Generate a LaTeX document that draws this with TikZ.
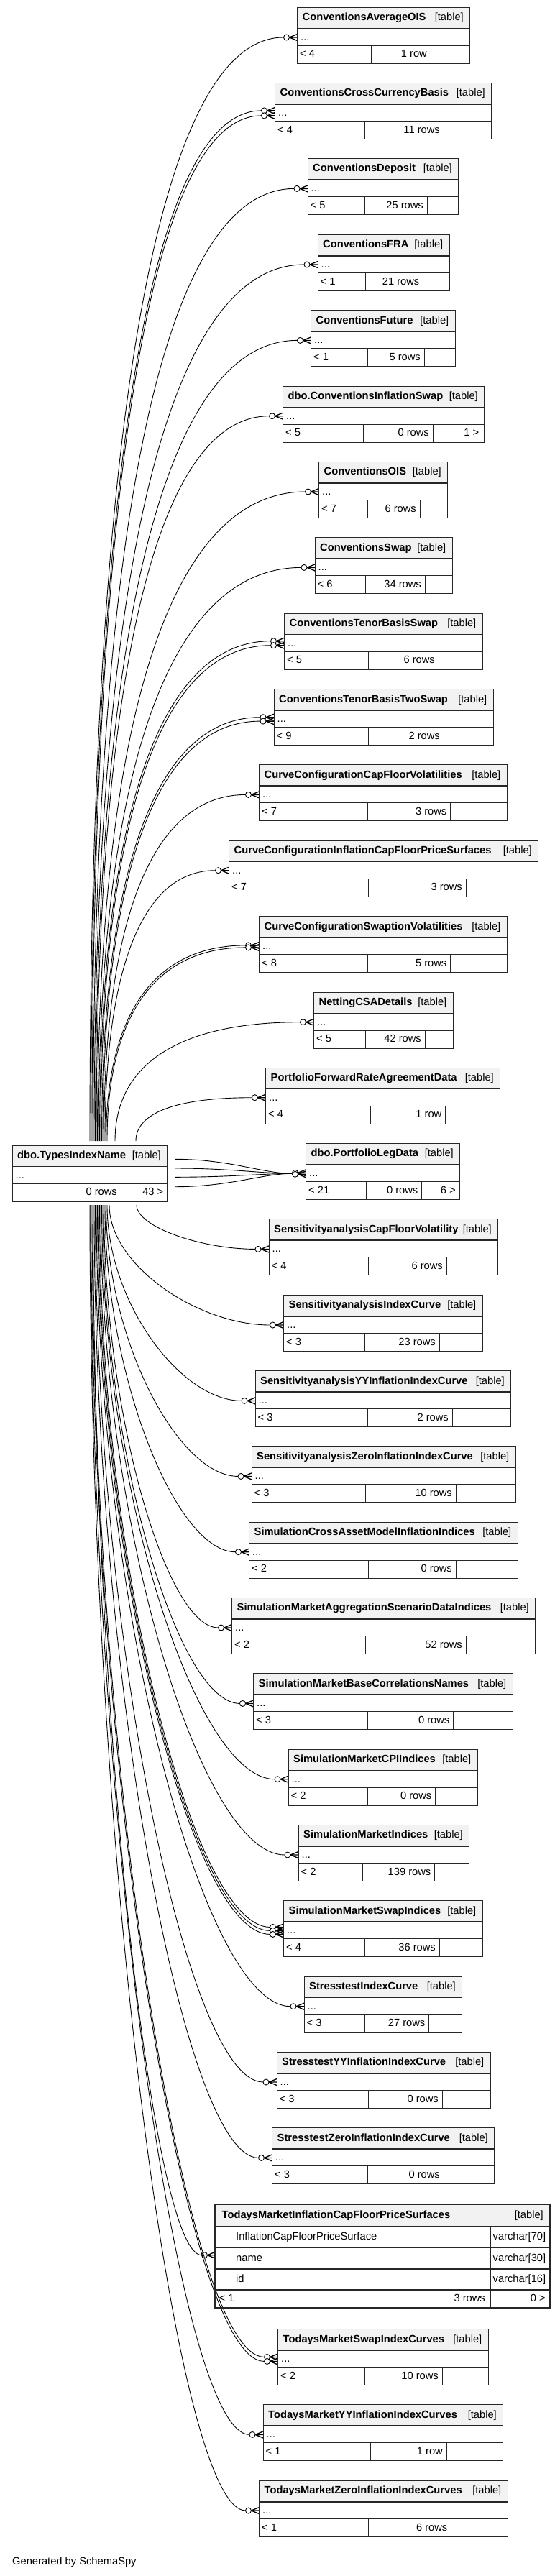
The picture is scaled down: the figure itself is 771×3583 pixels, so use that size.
\documentclass[tikz,border=0pt]{standalone}
\usepackage{fontspec}
\setmainfont{Liberation Sans}
\newcommand{\tbl}[9]{%
  \fill[hdr] (#2,#4) rectangle (#3,#4+29.5);
  \node[tblbox, minimum width=#3pt-#2pt, minimum height=78pt] (#1) at (#2,#4) {};
  \draw[sepline] (#2,#4+29.5) -- (#3,#4+29.5);
  \draw[boxline] (#2,#4+53) -- (#3,#4+53) (#5,#4+53) -- (#5,#4+78) (#6,#4+53) -- (#6,#4+78);
  \node[ttl, anchor=base west] (#1-t) at (#2+7,#4+18.3) {#7};
  \node[txt, anchor=base east] (#1-g) at (#3-8.5,#4+18.3) {[table]};
  \node[txt, anchor=base west] (#1-d) at (#2+4.5,#4+46.2) {...};
  \node[txt, anchor=base west] (#1-l) at (#2+3.5,#4+69.7) {#8};
  \node[txt, anchor=base east] (#1-n) at (#6-5,#4+69.7) {#9};
}
\newcommand{\crowf}[2]{%
  \pgfmathsetmacro\myCa{#1-11}\pgfmathsetmacro\myCb{#1-15}%
  \pgfmathsetmacro\myYu{#2-4.5}\pgfmathsetmacro\myYd{#2+4.5}%
  \draw[crow] (\myCa,#2) -- (#1,\myYu) (\myCa,#2) -- (#1,#2) (\myCa,#2) -- (#1,\myYd);
  \draw[edge,fill=white] (\myCb,#2) circle (4pt);
}
\newcommand{\fkup}[5]{%
  \pgfmathsetmacro\myEy{#4+41.7+(#5)}%
  \pgfmathsetmacro\myEx{#3-19}%
  \pgfmathsetmacro\myCy{1587-0.65*(1587-\myEy)}%
  \pgfmathsetmacro\myCx{#2+0.35*(\myEx-#2)}%
  \coordinate (#1s) at (#2,1587);
  \coordinate (#1e) at (\myEx,\myEy);
  \draw[edge] (#1s) .. controls (#2,\myCy) and (\myCx,\myEy) .. (#1e);
  \crowf{#3}{\myEy}%
}
\newcommand{\fkdn}[5]{%
  \pgfmathsetmacro\myEy{#4+41.7+(#5)}%
  \pgfmathsetmacro\myEx{#3-19}%
  \pgfmathsetmacro\myCy{1676+0.5*(\myEy-1676)}%
  \pgfmathsetmacro\myCx{#2+0.55*(\myEx-#2)}%
  \coordinate (#1s) at (#2,1676);
  \coordinate (#1e) at (\myEx,\myEy);
  \draw[edge] (#1s) .. controls (#2,\myCy) and (\myCx,\myEy) .. (#1e);
  \crowf{#3}{\myEy}%
}
\newcommand{\fkpl}[2]{%
  \coordinate (#1s) at (243.5,#2);
  \coordinate (#1e) at (406.5,1632.3);
  \draw[edge] (#1s) .. controls (320,#2) and (365,1632.3) .. (#1e);
}
\begin{document}
\begin{tikzpicture}[x=1pt,y=-1pt,
  edge/.style={line width=0.9pt, draw=black},
  crow/.style={line width=1.3pt, draw=black},
  boxline/.style={line width=1pt, draw=black!85},
  sepline/.style={line width=1.6pt, draw=black!85},
  hdr/.style={fill=black!5},
  ttl/.style={inner sep=0pt, font=\bfseries\fontsize{14.7}{18}\selectfont},
  txt/.style={inner sep=0pt, font=\fontsize{14.7}{18}\selectfont},
  tblbox/.style={draw=black!85, line width=1pt, inner sep=0pt, outer sep=0pt, anchor=north west},
]
\fill[white] (0,0) rectangle (771,3583);
\useasboundingbox (0,0) rectangle (771,3583);

% ---- connectors going up
\fkup{a01}{125}{413.5}{10.3}{0}
\fkup{a02}{126.5}{382.5}{115.7}{-3.5}
\fkup{a03}{128}{382.5}{115.7}{3.5}
\fkup{a04}{129.5}{428}{220.7}{0}
\fkup{a05}{131}{442}{326.3}{0}
\fkup{a06}{132.5}{432.5}{431.7}{0}
\fkup{a07}{134}{393.5}{537}{0}
\fkup{a08}{135.5}{443.5}{642.3}{0}
\fkup{a09}{137}{438}{747.7}{0}
\fkup{a10}{138.5}{395.5}{853}{-3}
\fkup{a11}{140}{395.5}{853}{3}
\fkup{a12}{141.5}{381}{958.7}{-2.7}
\fkup{a13}{143}{381}{958.7}{2.7}
\fkup{a14}{144.5}{360.5}{1063.7}{0}
\fkup{a15}{146}{318.5}{1169}{0}
\fkup{a16}{147.5}{360.5}{1274.7}{-1.5}
\fkup{a17}{149}{360.5}{1274.7}{1.5}
\fkup{a18}{160}{436.5}{1380}{0}
\fkup{a19}{189}{369.5}{1485}{0}

% ---- connectors to PortfolioLegData
\fkpl{p1}{1612.3}
\fkpl{p2}{1625}
\fkpl{p3}{1637.3}
\fkpl{p4}{1650.7}
\crowf{425.5}{1631.3}
\crowf{425.5}{1633.3}

% ---- connectors going down
\fkdn{b01}{190}{374}{1695.7}{0}
\fkdn{b02}{152}{394.5}{1801.3}{0}
\fkdn{b03}{149}{355}{1906.7}{0}
\fkdn{b04}{147.5}{350}{2011.7}{0}
\fkdn{b05}{146}{346.5}{2117}{0}
\fkdn{b06}{144.5}{322.5}{2222.3}{0}
\fkdn{b07}{143}{352.5}{2327.7}{0}
\fkdn{b08}{141.5}{401}{2433}{0}
\fkdn{b09}{140}{415}{2538.3}{0}
\fkdn{b10}{138.5}{394.5}{2643.7}{-5}
\fkdn{b11}{137}{394.5}{2643.7}{0}
\fkdn{b12}{135.5}{394.5}{2643.7}{5}
\fkdn{b13}{134}{423}{2749}{0}
\fkdn{b14}{132.5}{385}{2854.3}{0}
\fkdn{b15}{131}{378.5}{2959.7}{0}
\fkdn{b16}{129.5}{299.5}{3095}{0}
\fkdn{b17}{128}{386.5}{3239.7}{-3}
\fkdn{b18}{126.5}{386.5}{3239.7}{3}
\fkdn{b19}{125.8}{366}{3344.7}{0}
\fkdn{b20}{125}{360.5}{3450.3}{0}

% ---- tables
\tbl{t01}{413.5}{653.5}{10.3}{516}{599}{ConventionsAverageOIS}{< 4}{1 row}
\tbl{t02}{382.5}{683.5}{115.7}{507}{617}{ConventionsCrossCurrencyBasis}{< 4}{11 rows}
\tbl{t03}{428}{637.5}{220.7}{507}{594}{ConventionsDeposit}{< 5}{25 rows}
\tbl{t04}{442}{625}{326.3}{508}{588.5}{ConventionsFRA}{< 1}{21 rows}
\tbl{t05}{432.5}{633}{431.7}{511}{590}{ConventionsFuture}{< 1}{5 rows}
\tbl{t06}{393.5}{673.5}{537}{505.5}{602}{dbo.ConventionsInflationSwap}{< 5}{0 rows}
\node[txt, anchor=base east] (t06-r) at (666.5,606.7) {1 >};
\tbl{t07}{443.5}{622.5}{642.3}{511}{584}{ConventionsOIS}{< 7}{6 rows}
\tbl{t08}{438}{629}{747.7}{508}{591}{ConventionsSwap}{< 6}{34 rows}
\tbl{t09}{395.5}{671}{853}{512}{610}{ConventionsTenorBasisSwap}{< 5}{6 rows}
\tbl{t10}{381}{686}{958.7}{512}{617}{ConventionsTenorBasisTwoSwap}{< 9}{2 rows}
\tbl{t11}{360.5}{705}{1063.7}{511}{626.5}{CurveConfigurationCapFloorVolatilities}{< 7}{3 rows}
\tbl{t12}{318.5}{748.5}{1169}{512.5}{648}{CurveConfigurationInflationCapFloorPriceSurfaces}{< 7}{3 rows}
\tbl{t13}{360.5}{705}{1274.7}{511}{626.5}{CurveConfigurationSwaptionVolatilities}{< 8}{5 rows}
\tbl{t14}{436.5}{630}{1380}{508.5}{591}{NettingCSADetails}{< 5}{42 rows}
\tbl{t15}{369.5}{695.5}{1485}{515}{619.5}{PortfolioForwardRateAgreementData}{< 4}{1 row}
\tbl{src}{17}{232.5}{1593}{87.5}{168}{dbo.TypesIndexName}{}{0 rows}
\node[txt, anchor=base east] (src-r) at (227.5,1662.7) {43 >};
\tbl{t16}{425.5}{639.5}{1590.3}{509.5}{586.5}{dbo.PortfolioLegData}{< 21}{0 rows}
\node[txt, anchor=base east] (t16-r) at (634,1660) {6 >};
\tbl{t17}{374}{692.5}{1695.7}{512.5}{621}{SensitivityanalysisCapFloorVolatility}{< 4}{6 rows}
\tbl{t18}{394.5}{671}{1801.3}{507}{611}{SensitivityanalysisIndexCurve}{< 3}{23 rows}
\tbl{t19}{355}{710.5}{1906.7}{511}{629}{SensitivityanalysisYYInflationIndexCurve}{< 3}{2 rows}
\tbl{t20}{350}{717}{2011.7}{508.5}{634}{SensitivityanalysisZeroInflationIndexCurve}{< 3}{10 rows}
\tbl{t21}{346.5}{720}{2117}{512.5}{634}{SimulationCrossAssetModelInflationIndices}{< 2}{0 rows}
\tbl{t22}{322.5}{744.5}{2222.3}{508.5}{648}{SimulationMarketAggregationScenarioDataIndices}{< 2}{52 rows}
\tbl{t23}{352.5}{713}{2327.7}{511}{630.5}{SimulationMarketBaseCorrelationsNames}{< 3}{0 rows}
\tbl{t24}{401}{664}{2433}{511}{605.5}{SimulationMarketCPIIndices}{< 2}{0 rows}
\tbl{t25}{415}{652.5}{2538.3}{504.5}{604.5}{SimulationMarketIndices}{< 2}{139 rows}
\tbl{t26}{394.5}{671}{2643.7}{507}{611}{SimulationMarketSwapIndices}{< 4}{36 rows}
\tbl{t27}{423}{642.5}{2749}{507}{596.5}{StresstestIndexCurve}{< 3}{27 rows}
\tbl{t28}{385}{682}{2854.3}{512.5}{615}{StresstestYYInflationIndexCurve}{< 3}{0 rows}
\tbl{t29}{378.5}{687.5}{2959.7}{511}{617}{StresstestZeroInflationIndexCurve}{< 3}{0 rows}
\tbl{t31}{386.5}{679}{3239.7}{507}{615}{TodaysMarketSwapIndexCurves}{< 2}{10 rows}
\tbl{t32}{366}{699.5}{3344.7}{515}{621}{TodaysMarketYYInflationIndexCurves}{< 1}{1 row}
\tbl{t33}{360.5}{706}{3450.3}{512.5}{627.5}{TodaysMarketZeroInflationIndexCurves}{< 1}{6 rows}

% ---- focus table
\fill[hdr] (299.5,3066) rectangle (765.5,3096.7);
\draw[sepline] (299.5,3096.7) -- (765.5,3096.7);
\draw[sepline] (299.5,3126.3) -- (765.5,3126.3) (299.5,3155.7) -- (765.5,3155.7) (299.5,3184.7) -- (765.5,3184.7);
\draw[sepline] (682,3096.7) -- (682,3210.7) (478.5,3184.7) -- (478.5,3210.7);
\node[tblbox, line width=2.6pt, minimum width=466pt, minimum height=144.7pt] (focus) at (299.5,3066) {};
\node[ttl, anchor=base west] (focus-t) at (308.5,3085) {TodaysMarketInflationCapFloorPriceSurfaces};
\node[txt, anchor=base east] (focus-g) at (756,3085) {[table]};
\node[txt, anchor=base west] (focus-c1) at (328,3115.7) {InflationCapFloorPriceSurface};
\node[txt, anchor=base west] (focus-c2) at (328,3145.3) {name};
\node[txt, anchor=base west] (focus-c3) at (328,3174.5) {id};
\node[txt, anchor=base west] (focus-y1) at (685.5,3115.7) {varchar[70]};
\node[txt, anchor=base west] (focus-y2) at (685.5,3145.3) {varchar[30]};
\node[txt, anchor=base west] (focus-y3) at (685.5,3174.5) {varchar[16]};
\node[txt, anchor=base west] (focus-l) at (304.5,3201.5) {< 1};
\node[txt, anchor=base east] (focus-n) at (675,3201.5) {3 rows};
\node[txt, anchor=base east] (focus-r) at (759,3201.5) {0 >};

\node[txt, anchor=base west] (credit) at (17,3567) {Generated by SchemaSpy};
\end{tikzpicture}
\end{document}
